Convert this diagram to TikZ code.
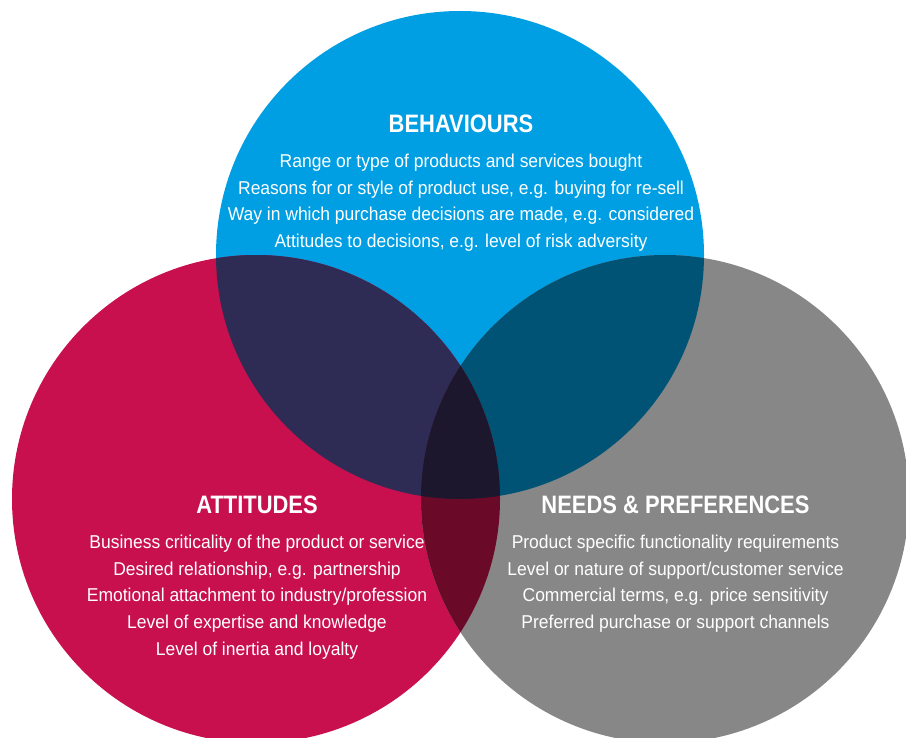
\documentclass[tikz,border=0pt]{standalone}
\usepackage{fontspec}
\setmainfont{Liberation Sans}[FakeStretch=0.87]
\newfontfamily\itemfont{Liberation Sans}[FakeStretch=0.94]
\usepackage{tikz}
\usetikzlibrary{positioning}
\definecolor{behblue}{HTML}{009FE3}
\definecolor{attred}{HTML}{C8104E}
\definecolor{needgrey}{HTML}{878787}
\definecolor{bluered}{HTML}{2E2B55}
\definecolor{bluegrey}{HTML}{005374}
\definecolor{redgrey}{HTML}{6B0A28}
\definecolor{allthree}{HTML}{1C172D}
\tikzset{
  head/.style={text=white, inner sep=0pt, anchor=base, font=\bfseries\fontsize{25.2}{27}\selectfont},
  items/.style={text=white, inner sep=0pt, anchor=north, align=center, font=\itemfont\fontsize{18.6}{26.6}\selectfont}
}

\begin{document}
\begin{tikzpicture}[x=1pt, y=-1pt]
      \useasboundingbox (0,0) rectangle (906,738);
      % Define circles
      \coordinate (beh) at (460,255);
      \coordinate (att) at (256,499);
      \coordinate (need) at (665,499);
      \fill[behblue] (beh) circle[radius=244pt];
      \fill[attred] (att) circle[radius=244pt];
      \fill[needgrey] (need) circle[radius=244pt];
      % Overlaps
      \begin{scope}
        \clip (beh) circle[radius=244pt];
        \fill[bluered] (att) circle[radius=244pt];
        \fill[bluegrey] (need) circle[radius=244pt];
      \end{scope}
      \begin{scope}
        \clip (att) circle[radius=244pt];
        \fill[redgrey] (need) circle[radius=244pt];
        \clip (need) circle[radius=244pt];
        \fill[allthree] (beh) circle[radius=244pt];
      \end{scope}
      % Define labels
      \node[head] (behhead) at (461,133) {BEHAVIOURS};
      \node[items] (behitems) at (461,154) {Range or type of products and services bought\\
        Reasons for or style of product use, e.g. buying for re-sell\\
        Way in which purchase decisions are made, e.g. considered\\
        Attitudes to decisions, e.g. level of risk adversity};
      \node[head] (atthead) at (257,513) {ATTITUDES};
      \node[items] (attitems) at (257,535) {Business criticality of the product or service\\
        Desired relationship, e.g. partnership\\
        Emotional attachment to industry/profession\\
        Level of expertise and knowledge\\
        Level of inertia and loyalty};
      \node[head] (needhead) at (675.5,513) {NEEDS \& PREFERENCES};
      \node[items] (needitems) at (675.5,535) {Product specific functionality requirements\\
        Level or nature of support/customer service\\
        Commercial terms, e.g. price sensitivity\\
        Preferred purchase or support channels};
\end{tikzpicture}
\end{document}
